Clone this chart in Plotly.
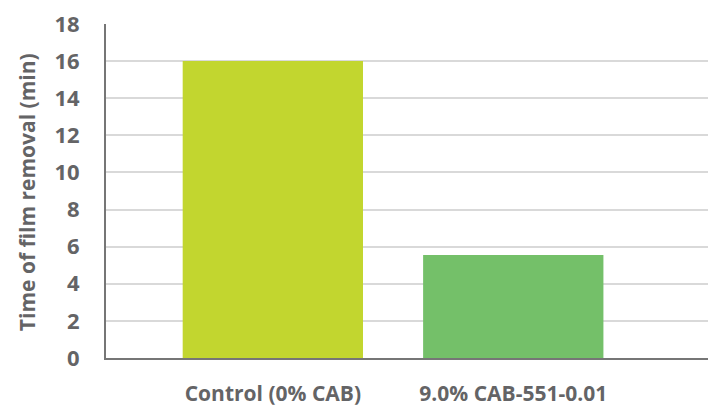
import plotly.graph_objects as go

categories = ["Control (0% CAB)", "9.0% CAB-551-0.01"]
values = [16.0, 5.55]
colors = ["#c2d62f", "#74c069"]
y_ticks = [0, 2, 4, 6, 8, 10, 12, 14, 16, 18]

fig = go.Figure(go.Bar(x=[0, 1], y=values, marker_color=colors, width=0.75,
                       marker_line_width=0))

font_fam = "Open Sans"
txt = "#646466"
fig.update_layout(
    width=708, height=407,
    margin=dict(l=106, r=0, t=24, b=46),
    paper_bgcolor="white", plot_bgcolor="white",
    showlegend=False,
    font=dict(family=font_fam, color=txt),
)
fig.update_xaxes(
    range=[-0.694, 1.81],
    tickvals=[0, 1], ticktext=[f"<b>{c}</b>" for c in categories],
    tickfont=dict(size=21, color=txt, family=font_fam),
    showgrid=False, zeroline=False,
    showline=True, linecolor="#767676", linewidth=2,
    ticks="", ticklabelstandoff=16,
)
fig.update_yaxes(
    range=[0, 18], tickvals=y_ticks,
    ticktext=[f"<b>{t}</b>" for t in y_ticks],
    tickfont=dict(size=22, color=txt, family=font_fam),
    showgrid=True, gridcolor="#d9d9d9", gridwidth=1.5,
    zeroline=False,
    showline=True, linecolor="#767676", linewidth=2,
    ticks="", ticklabelstandoff=20,
)
fig.add_annotation(
    text="<b>Time of film removal (min)</b>", textangle=-90,
    xref="paper", yref="paper", x=-0.131, y=0.497,
    showarrow=False, font=dict(size=21, color=txt, family=font_fam),
    xanchor="center", yanchor="middle",
)
fig.write_html(
    "out.html",
    config={"displayModeBar": False},
    post_script="document.body.style.margin='0';document.body.style.overflow='hidden';",
)
